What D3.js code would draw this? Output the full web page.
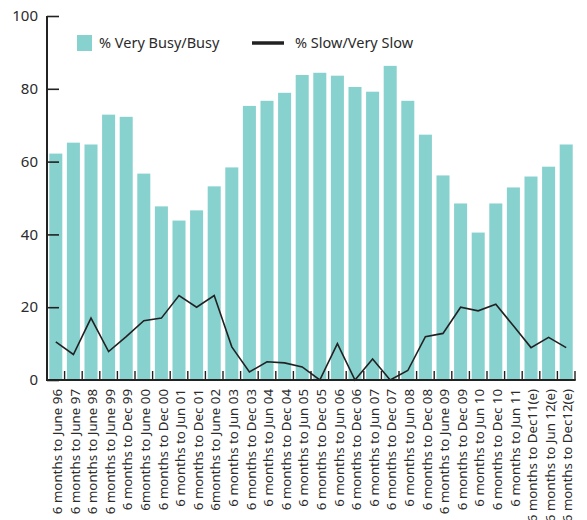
<!DOCTYPE html>
<html>
<head>
<meta charset="utf-8">
<script src="https://cdn.jsdelivr.net/npm/d3@7"></script>
<style>
  body { margin: 0; background: #fff; }
  text { font-family: "Noto Sans", "Open Sans", sans-serif; fill: #2b2b2b; }
</style>
</head>
<body>
<div id="chart"></div>
<script>
// data
var periods = ["6 months to June 96", "6 months to June 97", "6 months to June 98", "6 months to June 99",
  "6 months to Dec 99", "6months to June 00", "6 months to Dec 00", "6 months to Jun 01",
  "6 months to Dec 01", "6months to June 02", "6 months to Jun 03", "6 months to Dec 03",
  "6 months to Jun 04", "6 months to Dec 04", "6 months to Jun 05", "6 months to Dec 05",
  "6 months to Jun 06", "6 months to Dec 06", "6 months to Jun 07", "6 months to Dec 07",
  "6 months to Jun 08", "6 months to Dec 08", "6 months to June 09", "6 months to Dec 09",
  "6 months to Jun 10", "6 months to Dec 10", "6 months to Jun 11", "6 months to Dec11(e)",
  "6 months to Jun 12(e)", "6 months to Dec12(e)"]
var busy = [62.2, 65.2, 64.7, 72.9, 72.3, 56.7, 47.7, 43.8, 46.6, 53.2, 58.4, 75.3, 76.7, 78.9, 83.8,
  84.4, 83.6, 80.5, 79.2, 86.3, 76.7, 67.4, 56.2, 48.5, 40.5, 48.5, 52.9, 55.9, 58.6, 64.7]
var slow = [10.5, 7, 17, 7.8, 11.9, 16.3, 17, 23.2, 20, 23.2, 9.1, 2.2, 5, 4.7, 3.6,
  0, 10, 0, 5.8, 0, 2.6, 11.9, 12.8, 20, 19, 20.8, 14.9, 8.9, 11.7, 8.9]
var yTicks = [0, 20, 40, 60, 80, 100]

var width = 587, height = 520
var pLeft = 47, pRight = 575, pTop = 16, pBottom = 380

var svg = d3.select("#chart").append("svg")
    .attr("width", width)
    .attr("height", height)

var x = d3.scaleBand()
    .domain(periods)
    .range([pLeft, pRight])
    .paddingInner(0.26)
    .paddingOuter(0.13)

var y = d3.scaleLinear()
    .domain([0, 100])
    .range([pBottom, pTop])

// bars
svg.selectAll(".bar").data(busy)
  .enter().append("rect")
    .attr("class", "bar")
    .attr("x", function(d, i) { return x(periods[i]) })
    .attr("y", function(d) { return y(d) })
    .attr("width", x.bandwidth())
    .attr("height", function(d) { return y(0) - y(d) })
    .attr("fill", "#87d1cf")

// line
var line = d3.line()
    .x(function(d, i) { return x(periods[i]) + x.bandwidth() / 2 })
    .y(function(d) { return y(d) })

svg.append("path")
    .datum(slow)
    .attr("d", line)
    .attr("fill", "none")
    .attr("stroke", "#222")
    .attr("stroke-width", 1.6)

// y axis, ticks pointing inwards
var yAxis = svg.append("g")
    .attr("transform", "translate(" + pLeft + ",0)")
    .call(d3.axisRight(y).tickValues(yTicks).tickSize(12).tickFormat(""))
yAxis.select(".domain").remove()
yAxis.selectAll("line").attr("stroke", "#222").attr("stroke-width", 1.6)

svg.append("line")
    .attr("x1", pLeft).attr("x2", pLeft)
    .attr("y1", y(100)).attr("y2", y(0) + 1)
    .attr("stroke", "#222").attr("stroke-width", 2)

svg.selectAll(".ylab").data(yTicks)
  .enter().append("text")
    .attr("class", "ylab")
    .attr("x", 38)
    .attr("y", function(d) { return y(d) })
    .attr("dy", "0.35em")
    .attr("text-anchor", "end")
    .style("font-size", "15px")
    .text(function(d) { return d })

// x axis with small ticks between bars
var step = x.step()
var gap = step * x.paddingInner()
svg.selectAll(".xtick").data(periods)
  .enter().append("line")
    .attr("class", "xtick")
    .attr("x1", function(d, i) { return i == periods.length - 1 ? pRight : x(d) + step - gap / 2 })
    .attr("x2", function(d, i) { return i == periods.length - 1 ? pRight : x(d) + step - gap / 2 })
    .attr("y1", pBottom)
    .attr("y2", pBottom - 9)
    .attr("stroke", "#222")
    .attr("stroke-width", 1.4)

svg.append("line")
    .attr("x1", pLeft).attr("x2", pRight + 0.7)
    .attr("y1", pBottom).attr("y2", pBottom)
    .attr("stroke", "#222").attr("stroke-width", 2)

svg.selectAll(".xlab").data(periods)
  .enter().append("text")
    .attr("class", "xlab")
    .attr("transform", function(d) {
      return "translate(" + (x(d) + x.bandwidth() / 2 + 1.5) + "," + (pBottom + 9) + ") rotate(-90)"
    })
    .attr("dy", "0.35em")
    .attr("text-anchor", "end")
    .style("font-size", "13.3px")
    .text(function(d) { return d })

// legend
svg.append("rect")
    .attr("x", 77).attr("y", 35)
    .attr("width", 15).attr("height", 16)
    .attr("fill", "#87d1cf")
svg.append("text")
    .attr("x", 99).attr("y", 43)
    .attr("dy", "0.35em")
    .style("font-size", "14.5px")
    .text("% Very Busy/Busy")
svg.append("line")
    .attr("x1", 252).attr("x2", 284)
    .attr("y1", 43).attr("y2", 43)
    .attr("stroke", "#222").attr("stroke-width", 3.5)
svg.append("text")
    .attr("x", 295).attr("y", 43)
    .attr("dy", "0.35em")
    .style("font-size", "14.5px")
    .text("% Slow/Very Slow")
</script>
</body>
</html>
